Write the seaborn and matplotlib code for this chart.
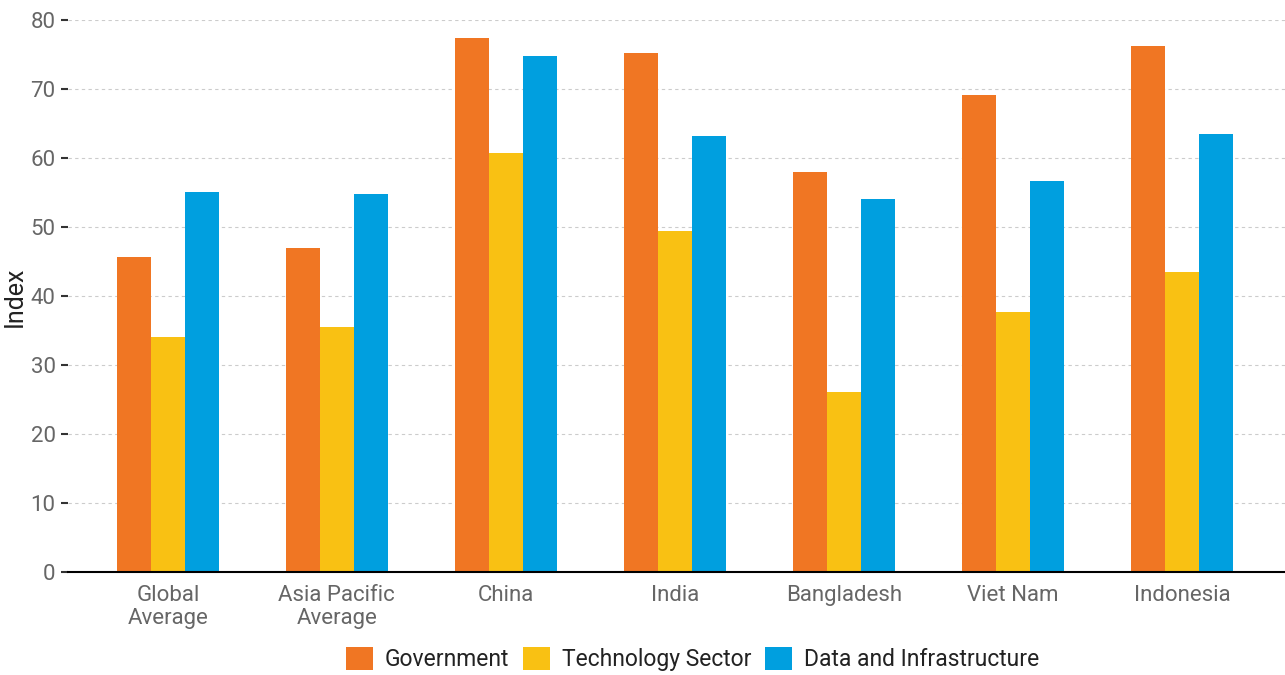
import pandas as pd
import matplotlib.pyplot as plt
import seaborn as sns

# Index values by country and pillar
countries = ['Global\nAverage', 'Asia Pacific\nAverage', 'China', 'India', 'Bangladesh', 'Viet Nam', 'Indonesia']
government = [45.7, 47.0, 77.4, 75.2, 58.0, 69.1, 76.2]
technology = [34.1, 35.5, 60.7, 49.4, 26.1, 37.8, 43.5]
data_infra = [55.1, 54.8, 74.8, 63.2, 54.1, 56.7, 63.5]
series = ['Government', 'Technology Sector', 'Data and Infrastructure']
colors = ['#F07623', '#F9C113', '#009FDF']

df = pd.DataFrame({'country': countries * 3,
                   'pillar': [series[0]] * 7 + [series[1]] * 7 + [series[2]] * 7,
                   'value': government + technology + data_infra})

sns.set_theme(style='white')
plt.rcParams['font.family'] = ['Roboto', 'DejaVu Sans']

fig, ax = plt.subplots(figsize=(12.85, 6.75), dpi=100)
fig.subplots_adjust(left=0.053, right=1.0, top=0.97, bottom=0.152)

sns.barplot(data=df, x='country', y='value', hue='pillar', palette=colors,
            width=0.6, saturation=1, linewidth=0, ax=ax, legend=True)

ax.set_ylim(0, 80)
ax.set_xlim(-0.59, 6.61)
ax.set_yticks(range(0, 81, 10))
ax.yaxis.grid(True, linestyle=(0, (3, 3)), color='#cccccc', linewidth=0.8)
ax.set_axisbelow(True)
for s in ['top', 'right', 'left']:
    ax.spines[s].set_visible(False)
ax.spines['bottom'].set_color('black')
ax.spines['bottom'].set_linewidth(1.5)

ax.tick_params(axis='y', left=True, length=5, width=1.5, color='#333333',
               labelsize=16, labelcolor='#666666', pad=4)
ax.tick_params(axis='x', bottom=False, labelsize=16, labelcolor='#666666', pad=3)
for lbl in ax.get_xticklabels():
    lbl.set_linespacing(1.15)

ax.set_xlabel('')
ax.set_ylabel('Index', fontsize=18, color='#222222', labelpad=3)

ax.legend(loc='upper center', bbox_to_anchor=(0.513, -0.097), ncol=3, frameon=False,
          fontsize=16.5, handlelength=1.2, handleheight=1.2, handletextpad=0.5,
          columnspacing=0.6, labelcolor='#222222')

plt.savefig('out.png', dpi=100)
